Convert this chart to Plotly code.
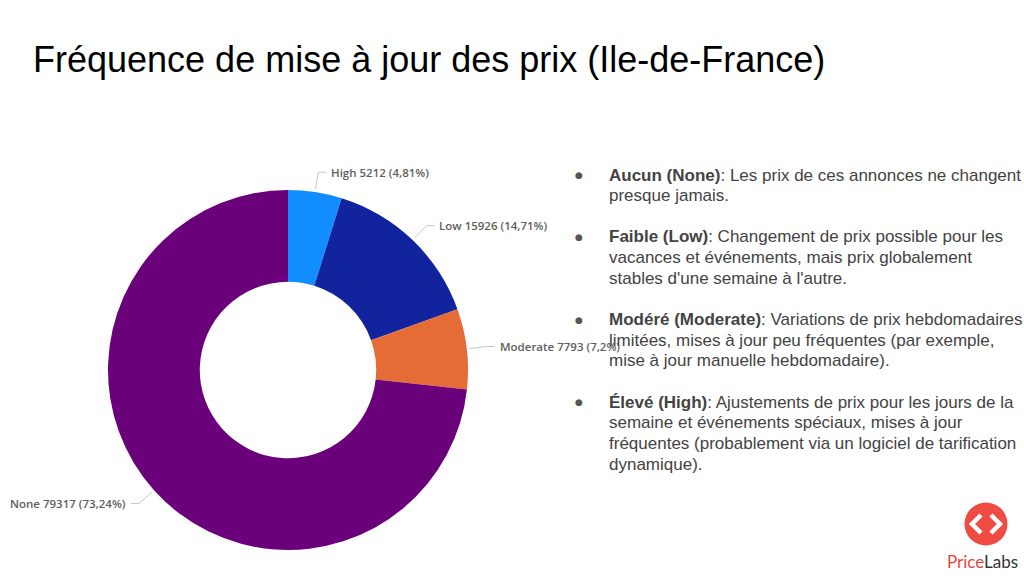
import numpy as np
import plotly.graph_objects as go

# data
categories = ["High", "Low", "Moderate", "None"]
counts = [5212, 15926, 7793, 79317]
pct_labels = ["4,81%", "14,71%", "7,2%", "73,24%"]
colors = ["#118DFF", "#12239E", "#E66C37", "#6B007B"]

bullet_titles = ["Aucun (None)", "Faible (Low)", "Modéré (Moderate)", "Élevé (High)"]
bullet_lines = [
    ["Les prix de ces annonces ne changent", "presque jamais."],
    ["Changement de prix possible pour les", "vacances et événements, mais prix globalement",
     "stables d'une semaine à l'autre."],
    ["Variations de prix hebdomadaires", "limitées, mises à jour peu fréquentes (par exemple,",
     "mise à jour manuelle hebdomadaire)."],
    ["Ajustements de prix pour les jours de la", "semaine et événements spéciaux, mises à jour",
     "fréquentes (probablement via un logiciel de tarification", "dynamique)."],
]

W, H = 1024, 576
cx, cy, R = 288, 370, 180


def px(x):
    return x / W


def py(y):
    return 1 - y / H


fig = go.Figure(go.Pie(
    labels=categories, values=counts, hole=0.49, sort=False, direction="clockwise",
    marker=dict(colors=colors, line=dict(width=0)), textinfo="none", showlegend=False,
    domain=dict(x=[px(cx - R), px(cx + R)], y=[py(cy + R), py(cy - R)]),
))

shapes = []
annotations = []

# data labels with leader lines
total = sum(counts)
mids = (np.cumsum(counts) - np.array(counts) / 2) / total * 2 * np.pi
for cat, val, pct, th in zip(categories, counts, pct_labels, mids):
    s, c = np.sin(th), np.cos(th)
    side = 1 if s >= 0 else -1
    x0, y0 = cx + (R + 3) * s, cy - (R + 3) * c
    x1, y1 = cx + (R + 20) * s, cy - (R + 20) * c
    x2 = x1 + side * 8
    shapes.append(dict(type="path", xref="paper", yref="paper",
                       path=f"M {px(x0)},{py(y0)} L {px(x1)},{py(y1)} L {px(x2)},{py(y1)}",
                       line=dict(color="#C8C6C4", width=1)))
    annotations.append(dict(x=px(x2 + side * 3), y=py(y1), xref="paper", yref="paper",
                            text=f"{cat} {val} ({pct})", showarrow=False,
                            xanchor="left" if side > 0 else "right", yanchor="middle",
                            font=dict(family="Open Sans", size=11.5, color="#605E5C", weight=600)))

# title
annotations.append(dict(x=px(31), y=py(60), xref="paper", yref="paper", showarrow=False,
                        text="Fréquence de mise à jour des prix (Ile-de-France)",
                        xanchor="left", yanchor="middle",
                        font=dict(family="Liberation Sans", size=36, color="#000000")))

# bullet text, one annotation per line
line_h = 20.65
row = 0
for title, lines in zip(bullet_titles, bullet_lines):
    annotations.append(dict(x=px(579), y=py(175 + row * line_h), xref="paper", yref="paper",
                            showarrow=False, text="●", xanchor="center", yanchor="middle",
                            font=dict(family="DejaVu Sans", size=9, color="#555555")))
    for i, line in enumerate(lines):
        text = f"<b>{title}</b>: {line}" if i == 0 else line
        annotations.append(dict(x=px(607), y=py(175 + row * line_h), xref="paper", yref="paper",
                                showarrow=False, text=text, xanchor="left", yanchor="middle",
                                font=dict(family="Liberation Sans", size=17, color="#434343")))
        row += 1
    row += 1

# PriceLabs logo
lx, ly, lr = 986, 524, 21.5
shapes.append(dict(type="circle", xref="paper", yref="paper",
                   x0=px(lx - lr), x1=px(lx + lr), y0=py(ly + lr), y1=py(ly - lr),
                   fillcolor="#EF4B43", line=dict(width=0)))
for d in (-1, 1):
    shapes.append(dict(type="path", xref="paper", yref="paper",
                       path=(f"M {px(lx + d * 5)},{py(ly - 9)} L {px(lx + d * 14)},{py(ly)} "
                             f"L {px(lx + d * 5)},{py(ly + 9)}"),
                       line=dict(color="white", width=4.5)))
annotations.append(dict(x=px(982), y=py(561), xref="paper", yref="paper", showarrow=False,
                        text="<span style='color:#E9443C'>Price</span>Labs",
                        xanchor="center", yanchor="middle",
                        font=dict(family="Lato", size=17, color="#333333")))

fig.update_layout(width=W, height=H, margin=dict(l=0, r=0, t=0, b=0),
                  paper_bgcolor="white", plot_bgcolor="white",
                  shapes=shapes, annotations=annotations)

fig.write_html("out.html", config={"displayModeBar": False},
               post_script="document.body.style.margin='0';")
